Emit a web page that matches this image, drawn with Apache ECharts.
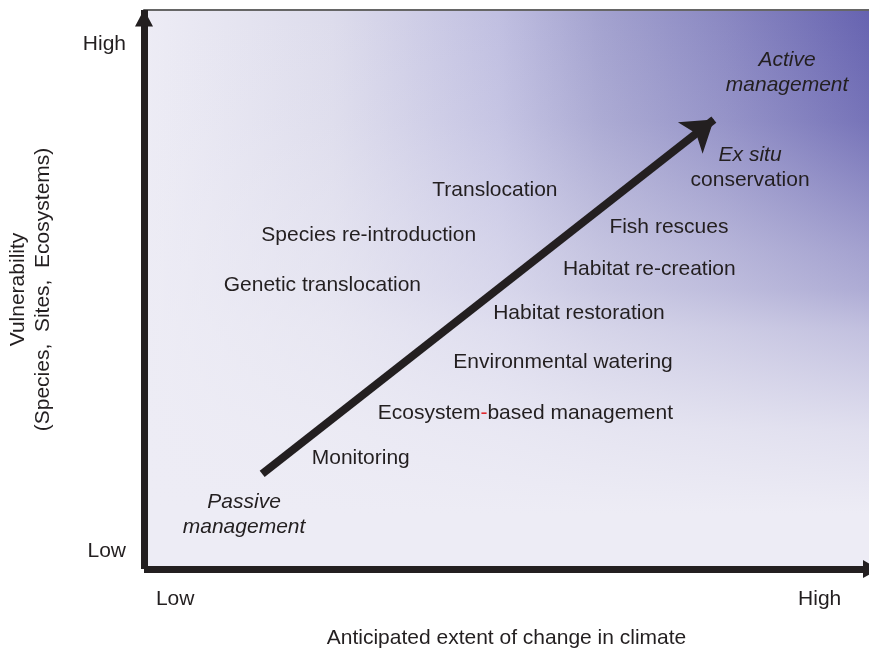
<!DOCTYPE html>
<html>
<head>
<meta charset="utf-8">
<script src="https://cdn.jsdelivr.net/npm/echarts@6/dist/echarts.min.js"></script>
<style>html,body{margin:0;padding:0;background:#fff}#c{width:869px;height:649px}</style>
</head>
<body>
<div id="c"></div>
<script>
// ---- data ----
var xTickValues = [4.3, 93.2];
var xTickLabels = ['Low', 'High'];
var yTickValues = [3.2, 93.9];
var yTickLabels = ['Low', 'High'];
var xAxisName = 'Anticipated extent of change in climate';
var yAxisName = 'Vulnerability\n(Species,  Sites,  Ecosystems)';
var itemNames = ['Active\nmanagement', 'Ex situ\nconservation', 'Translocation', 'Species re-introduction',
  'Genetic translocation', 'Fish rescues', 'Habitat re-creation', 'Habitat restoration',
  'Environmental watering', 'Ecosystem-based management', 'Monitoring', 'Passive\nmanagement'];
var itemX = [88.7, 83.6, 48.4, 31.0, 24.6, 72.4, 69.7, 60.0, 57.8, 52.6, 29.9, 13.8];
var itemY = [88.8, 71.8, 67.8, 59.7, 50.8, 61.2, 53.7, 45.8, 37.0, 27.9, 19.9, 9.8];
var arrowFrom = [16.3, 17.0];
var arrowTo = [78.6, 80.4];

var FONT = '"Liberation Sans", Arial, sans-serif';
var TXT = '#231f20';
var FS = 21;

function fmtItem(name) {
  if (name === 'Active\nmanagement') return '{i|Active}\n{i|management}';
  if (name === 'Passive\nmanagement') return '{i|Passive}\n{i|management}';
  if (name === 'Ex situ\nconservation') return '{i|Ex situ}\n{n|conservation}';
  if (name === 'Ecosystem-based management') return '{n|Ecosystem}{r|-}{n|based management}';
  return '{n|' + name + '}';
}

var scatterData = itemNames.map(function (n, i) {
  return { name: n, value: [itemX[i], itemY[i]] };
});

function nearestLabel(vals, labels, v) {
  var best = 0;
  for (var i = 1; i < vals.length; i++) if (Math.abs(vals[i] - v) < Math.abs(vals[best] - v)) best = i;
  return labels[best];
}

var richBase = { fontSize: FS, color: TXT, fontFamily: FONT, lineHeight: 25, textBorderWidth: 0, textShadowBlur: 0 };

var chart = echarts.init(document.getElementById('c'), null, { renderer: 'canvas' });
chart.setOption({
  animation: false,
  textStyle: { fontFamily: FONT },
  grid: {
    left: 144, right: 0, top: 10, bottom: 80, show: true, borderWidth: 0,
    containLabel: false, outerBoundsMode: 'none',
    backgroundColor: {
      type: 'linear', x: 0, y: 0, x2: 1, y2: 0,
      colorStops: [
        { offset: 0, color: '#edecf5' },
        { offset: 0.26, color: '#dddcec' },
        { offset: 0.49, color: '#c0bfe1' },
        { offset: 0.63, color: '#a3a2cf' },
        { offset: 0.8, color: '#8a88c2' },
        { offset: 1, color: '#6663b0' }
      ]
    }
  },
  xAxis: [{
    type: 'value', min: 0, max: 100, position: 'bottom',
    name: xAxisName, nameLocation: 'middle', nameGap: 59,
    nameTextStyle: { fontSize: FS, color: TXT, fontFamily: FONT },
    axisLine: { show: true, symbol: ['none', 'triangle'], symbolSize: [18, 16], symbolOffset: [0, 2],
      lineStyle: { color: TXT, width: 7, cap: 'butt' } },
    axisTick: { show: false },
    splitLine: { show: false },
    axisLabel: {
      customValues: xTickValues, margin: 20, fontSize: FS, color: TXT, fontFamily: FONT,
      formatter: function (v) { return nearestLabel(xTickValues, xTickLabels, v); }
    },
    z: 10
  }, {
    type: 'value', min: 0, max: 100, position: 'top',
    axisLine: { show: true, lineStyle: { color: '#666', width: 2 } },
    axisTick: { show: false }, axisLabel: { show: false }, splitLine: { show: false }
  }],
  yAxis: {
    type: 'value', min: 0, max: 100,
    name: yAxisName, nameLocation: 'middle', nameGap: 88, nameRotate: 90,
    nameTextStyle: { fontSize: FS, color: TXT, fontFamily: FONT, lineHeight: 25 },
    axisLine: { show: true, symbol: ['none', 'triangle'], symbolSize: [18, 17], symbolOffset: [0, -8],
      lineStyle: { color: TXT, width: 7, cap: 'butt' } },
    axisTick: { show: false },
    splitLine: { show: false },
    axisLabel: {
      customValues: yTickValues, margin: 18, fontSize: FS, color: TXT, fontFamily: FONT,
      formatter: function (v) { return nearestLabel(yTickValues, yTickLabels, v); }
    },
    z: 10
  },
  series: [{
    type: 'scatter',
    symbolSize: 0,
    silent: true,
    data: [],
    z: 1,
    markArea: {
      silent: true,
      itemStyle: {
        color: {
          type: 'linear', x: 0, y: 0, x2: 0, y2: 1,
          colorStops: [
            { offset: 0, color: 'rgba(237,236,245,0)' },
            { offset: 0.2, color: 'rgba(237,236,245,0.12)' },
            { offset: 0.43, color: 'rgba(237,236,245,0.45)' },
            { offset: 0.5, color: 'rgba(237,236,245,0.53)' },
            { offset: 0.57, color: 'rgba(237,236,245,0.68)' },
            { offset: 0.75, color: 'rgba(237,236,245,0.9)' },
            { offset: 0.9, color: 'rgba(237,236,245,1)' },
            { offset: 1, color: 'rgba(237,236,245,1)' }
          ]
        }
      },
      data: [[{ coord: [0, 100] }, { coord: [100, 0] }]]
    }
  }, {
    type: 'scatter',
    symbolSize: 1,
    silent: true,
    itemStyle: { color: 'rgba(0,0,0,0)' },
    data: scatterData,
    label: {
      show: true, position: 'inside', align: 'center', verticalAlign: 'middle',
      color: TXT, opacity: 1, textBorderWidth: 0, fontSize: FS,
      formatter: function (p) { return fmtItem(p.name); },
      rich: {
        n: richBase,
        i: Object.assign({}, richBase, { fontStyle: 'italic' }),
        r: Object.assign({}, richBase, { color: '#e0282e' })
      }
    },
    z: 5
  }, {
    type: 'lines',
    coordinateSystem: 'cartesian2d',
    silent: true,
    symbol: ['none', 'arrow'],
    symbolSize: [28, 30],
    lineStyle: { color: TXT, width: 8, opacity: 1, cap: 'butt' },
    data: [{ coords: [arrowFrom, arrowTo] }],
    z: 4
  }]
});
</script>
</body>
</html>
